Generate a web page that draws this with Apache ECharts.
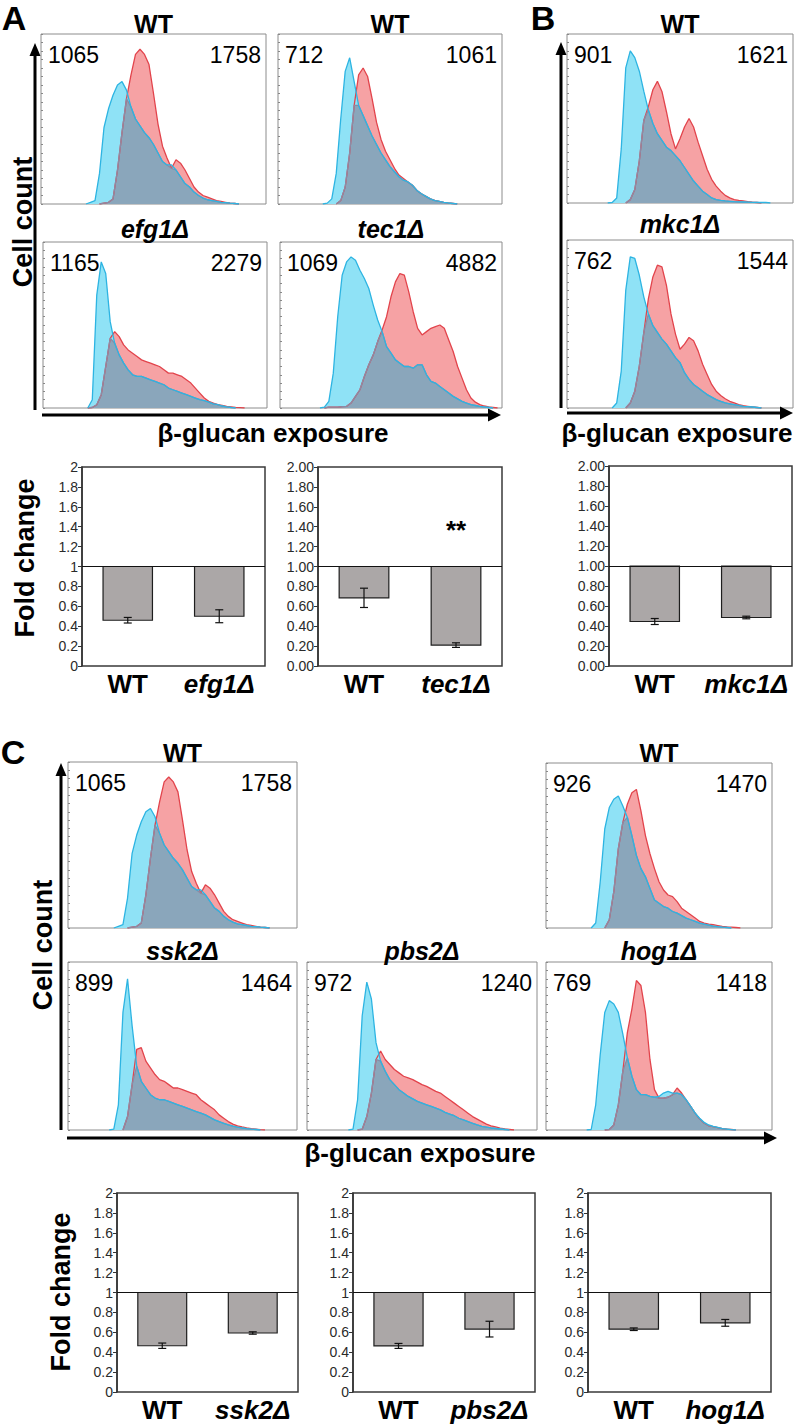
<!DOCTYPE html>
<html><head><meta charset="utf-8">
<script src="https://cdn.jsdelivr.net/npm/echarts@6/dist/echarts.min.js"></script>
<style>html,body{margin:0;padding:0;background:#fff}#c{width:800px;height:1428px}</style>
</head><body><div id="c"></div><script>
// ---------- histogram data (cell count, % of box height; bins every 2% of box width) ----------
const a1Blue=[0,0,0,0,0,0,0,0,0,0,0,1,2,18,45,56,64,70,72,67,57,50,46,42,39,35,30,25,23,23,20,16,12,10,7,5,3.5,2.5,2,1.5,1,0.8,0.5,0.3,0,0,0,0,0,0,0];
const a1Red =[0,0,0,0,0,0,0,0,0,0,0,0,0,0,0.5,1,3,20,42,62,76,88,91,88,82,65,47,34,27,21,26,24,20,15,10,7,5,4,3,2,1.5,1,0.5,0.3,0,0,0,0,0,0,0];
const a2Blue=[0,0,0,0,0,0,0,0,0,0,0,0.5,3,18,50,78,86,72,58,52,46,40,35,30,26,22,19,16,14,13,11,8,6,4.5,3,2,1.5,1,0.6,0.3,0,0,0,0,0,0,0,0,0,0,0];
const a2Red =[0,0,0,0,0,0,0,0,0,0,0,0,0,0,2,10,30,58,76,80,75,62,48,38,31,26,21,17,15,13,11,8,6,4.5,3,2.2,1.5,1,0.6,0.3,0,0,0,0,0,0,0,0,0,0,0];
const a3Blue=[0,0,0,0,0,0,0,0,0,0,0,5,68,88,81,52,39,32,27,23,20,19,19,18,17,16,15,14,12,11,10,9,8,7,6,5,4.5,3.5,2.5,2,1.2,0.7,0.3,0,0,0,0,0,0,0,0];
const a3Red =[0,0,0,0,0,0,0,0,0,0,0,0.3,2,8,25,42,46,43,38,35,33,31,29,28,27,26,25,23,21,21,20,19,17,15,12,9,6,4,3,2,1.5,1,0.7,0.4,0.2,0,0,0,0,0,0];
const a4Blue=[0,0,0,0,0,0,0,0,0,0,0.5,4,21,55,80,88,91,89,83,78,72,62,53,46,37,33,29,27,25,25,24,26,26,20,16,15,13,11,9,7,5.5,4,3,2,1.5,1,0.6,0.3,0,0,0];
const a4Red =[0,0,0,0,0,0,0,0,0,0,0,0.5,0.5,0.5,0.8,1,3,7,11,19,26,32,40,47,55,67,76,81,80,70,58,48,44,46,48,49,50,48,41,34,25,18,11,6,3.5,2,1.2,0.6,0.3,0,0];
const b1Blue=[0,0,0,0,0,0,0,0,0,0,0.3,3,32,80,90,86,78,66,55,47,41,37,33,31,28,25,21,17,13,10,7,5,3,2,1.5,1.2,1,0.8,0.7,0.6,0.5,0.4,0.4,0.3,0.3,0,0,0,0,0,0];
const b1Red =[0,0,0,0,0,0,0,0,0,0,0,0,0,0,2,8,25,49,57,67,72,66,54,41,32,38,45,50,45,36,28,20,14,10,7,4.5,3,2,1.5,1.2,0.8,0.5,0.3,0,0,0,0,0,0,0,0];
const b2Blue=[0,0,0,0,0,0,0,0,0,0,0,3,22,70,90,89,79,66,56,49,45,41,38,34,30,27,21,17,14,12,10,8,6.5,5,4,3,2.5,2,1.5,1,0.8,0.6,0.3,0,0,0,0,0,0,0,0];
const b2Red =[0,0,0,0,0,0,0,0,0,0,0,0,0,0,3,10,25,45,65,78,85,84,73,56,44,35,38,42,40,34,26,20,14,10,7.5,5.5,4,3,2,1.4,1,0.6,0.3,0,0,0,0,0,0,0,0];
const c2Blue=[0,0,0,0,0,0,0,0,0,0,0,3,28,60,73,78,80,74,67,56,44,36,31,24,17,15,13,12,10,9,7.5,6,5,4,3,2.3,1.8,1.2,0.8,0.5,0.3,0,0,0,0,0,0,0,0,0,0];
const c2Red =[0,0,0,0,0,0,0,0,0,0,0,0,0,0,5,22,48,64,75,82,84,71,56,45,36,28,23,20,19,16,12,10,8,6,4,3,2.3,2,1.5,1,0.7,0.5,0.3,0,0,0,0,0,0,0,0];
const c3Blue=[0,0,0,0,0,0,0,0,0,0,0.5,15,70,90,62,38,29,25,21,19,18,18,17,16,15,14,13,12,11,10,9,7.5,6,5,4,3,2.3,1.7,1.2,0.8,0.5,0.3,0,0,0,0,0,0,0,0,0];
const c3Red =[0,0,0,0,0,0,0,0,0,0,0,0,0,8,27,48,49,41,37,33,30,29,27,25,25,24,23,22,21,18,16,14,12,9,7,5,3.5,2.5,1.8,1.2,0.8,0.5,0.2,0,0,0,0,0,0,0,0];
const c4Blue=[0,0,0,0,0,0,0,0,0,0,0.5,18,68,88,78,52,41,35,30,27,24,22,20,18.5,17,16,15,14,13,12,10.5,9.5,8.5,7,6,5,4,3,2.2,1.7,1.2,0.9,0.6,0.3,0,0,0,0,0,0,0];
const c4Red =[0,0,0,0,0,0,0,0,0,0,0,0,0.5,8,22,42,47,42,39,36,34,32,31,30,28.5,27,26,24.5,23,22,20,18,16,14,12,10,8,6.5,5,3.5,2.5,1.8,1.1,0.6,0.3,0,0,0,0,0,0];
const c5Blue=[0,0,0,0,0,0,0,0,0,0,0.3,15,45,70,77,75,70,57,43,32,24,21,21,20,19.5,20,22,23,22,22,21,18,14,10,7,4.5,3,2.2,1.5,0.8,0.5,0.2,0,0,0,0,0,0,0,0,0];
const c5Red =[0,0,0,0,0,0,0,0,0,0,0,0,0,0,0.3,3,15,35,58,72,89,86,70,42,24,19,19,19.5,21,25,22,18,14,10,6.5,4,2.5,2,1.4,0.8,0.5,0.3,0,0,0,0,0,0,0,0,0];

const histTitles=['WT','WT','efg1Δ','tec1Δ','WT','mkc1Δ','WT','WT','ssk2Δ','pbs2Δ','hog1Δ'];
const histLowMfi =['1065','712','1165','1069','901','762','1065','926','899','972','769'];
const histHighMfi=['1758','1061','2279','4882','1621','1544','1758','1470','1464','1240','1418'];
const histBlue=[a1Blue,a2Blue,a3Blue,a4Blue,b1Blue,b2Blue,a1Blue,c2Blue,c3Blue,c4Blue,c5Blue];
const histRed =[a1Red,a2Red,a3Red,a4Red,b1Red,b2Red,a1Red,c2Red,c3Red,c4Red,c5Red];

// ---------- fold-change bar data ----------
const catsA1=['WT','efg1Δ'], fcA1=[0.46,0.50],  errA1=[0.028,0.065];
const catsA2=['WT','tec1Δ'], fcA2=[0.685,0.21], errA2=[0.097,0.023];
const sigA2=['','**'], sigA2Y=[null,1.37];
const catsB =['WT','mkc1Δ'], fcB =[0.445,0.485], errB=[0.03,0.013];
const catsC1=['WT','ssk2Δ'], fcC1=[0.465,0.593], errC1=[0.027,0.012];
const catsC2=['WT','pbs2Δ'], fcC2=[0.463,0.632], errC2=[0.025,0.079];
const catsC3=['WT','hog1Δ'], fcC3=[0.631,0.695], errC3=[0.013,0.034];

// ---------- layout ----------
const F='"Liberation Sans", Arial, Helvetica, sans-serif';
const histBoxes=[[41,34,225,170],[278,34,224,170],[43,242,224,166],[280,242,222,166],
  [567,34,226,169],[567,240,226,168],[68,762,229,166],[546,763,226,165],
  [68,962,229,168],[307,962,230,168],[546,962,226,168]];
const histTitleY=[24,24,229,229,24,224,753,753,951,951,951];
const barDefs=[
  {cats:catsA1,fc:fcA1,err:errA1,dec:1,box:[82,467,183,199]},
  {cats:catsA2,fc:fcA2,err:errA2,dec:2,box:[318,467,184,199],sig:sigA2,sigY:sigA2Y},
  {cats:catsB ,fc:fcB ,err:errB ,dec:2,box:[609,466,183,200]},
  {cats:catsC1,fc:fcC1,err:errC1,dec:1,box:[117,1193,181,199]},
  {cats:catsC2,fc:fcC2,err:errC2,dec:1,box:[353,1193,182,199]},
  {cats:catsC3,fc:fcC3,err:errC3,dec:1,box:[588,1193,183,199]}
];

const COL={blueFill:'#8fe2f6',redFill:'#f6a2a4',both:'#8aa6bb',blueLine:'#2db4e2',redLine:'#e2444c',bothLine:'#8d89a3'};

function trimZeros(arr){
  return arr.map((v,i)=>{
    if(v!==0) return v;
    const p=i>0?arr[i-1]:0, n=i<arr.length-1?arr[i+1]:0;
    return (p===0&&n===0)?null:0;
  });
}

const grid=[],xAxis=[],yAxis=[],series=[],graphic=[];

histBoxes.forEach((b,gi)=>{
  const blue=histBlue[gi], red=histRed[gi];
  const both=blue.map((v,i)=>Math.min(v,red[i]));
  grid.push({left:b[0],top:b[1],width:b[2],height:b[3],show:true,borderColor:'#8c8c8c',borderWidth:1,backgroundColor:'#fff',containLabel:false,outerBoundsMode:'none'});
  xAxis.push({gridIndex:gi,type:'category',boundaryGap:false,data:blue.map((_,i)=>i),show:false});
  yAxis.push({gridIndex:gi,type:'value',min:0,max:100,interval:5,
    axisLine:{show:false},axisTick:{show:true,inside:true,length:2,lineStyle:{color:'#888',width:1}},
    axisLabel:{show:false},splitLine:{show:false}});
  const base={type:'line',xAxisIndex:gi,yAxisIndex:gi,symbol:'none',silent:true,animation:false,connectNulls:false};
  series.push(Object.assign({},base,{data:trimZeros(red),lineStyle:{color:COL.redLine,width:1.3},areaStyle:{color:COL.redFill,opacity:1}}));
  series.push(Object.assign({},base,{data:trimZeros(blue),lineStyle:{width:0,opacity:0},areaStyle:{color:COL.blueFill,opacity:1}}));
  series.push(Object.assign({},base,{data:trimZeros(both),lineStyle:{color:COL.bothLine,width:1.3},areaStyle:{color:COL.both,opacity:1}}));
  series.push(Object.assign({},base,{data:trimZeros(blue),lineStyle:{color:COL.blueLine,width:1.3}}));
  const italic = histTitles[gi]!=='WT';
  graphic.push({type:'text',silent:true,style:{text:histTitles[gi],x:b[0]+b[2]/2,y:histTitleY[gi],
    font:(italic?'italic ':'')+'bold 25px '+F,fill:'#000',textAlign:'center',textVerticalAlign:'middle',align:'center',verticalAlign:'middle'}});
  graphic.push({type:'text',silent:true,z:100,style:{text:histLowMfi[gi],x:b[0]+7,y:b[1]+21,
    font:'23px '+F,fill:'#000',textAlign:'left',textVerticalAlign:'middle',align:'left',verticalAlign:'middle'}});
  graphic.push({type:'text',silent:true,z:100,style:{text:histHighMfi[gi],x:b[0]+b[2]-5,y:b[1]+21,
    font:'23px '+F,fill:'#000',textAlign:'right',textVerticalAlign:'middle',align:'right',verticalAlign:'middle'}});
});

barDefs.forEach((d,k)=>{
  const gi=histBoxes.length+k, b=d.box;
  grid.push({left:b[0],top:b[1],width:b[2],height:b[3],show:true,borderColor:'#3a3a3a',borderWidth:1.5,backgroundColor:'#fff',containLabel:false,outerBoundsMode:'none'});
  xAxis.push({gridIndex:gi,type:'category',data:d.cats,boundaryGap:true,
    axisLine:{show:false},axisTick:{show:false},
    axisLabel:{margin:5,formatter:(v,i)=>i===0?'{n|'+v+'}':'{m|'+v+'}',
      rich:{n:{fontSize:26,fontWeight:'bold',fontFamily:F,color:'#000'},
            m:{fontSize:26,fontWeight:'bold',fontStyle:'italic',fontFamily:F,color:'#000'}}}});
  yAxis.push({gridIndex:gi,type:'value',min:0,max:2,interval:0.2,
    axisLine:{show:true,lineStyle:{color:'#333',width:1.5}},
    axisTick:{show:true,inside:false,length:4,lineStyle:{color:'#333',width:1}},
    axisLabel:{fontSize:14,fontFamily:F,color:'#2a2a2a',margin:4,
      formatter:v=>d.dec===2?v.toFixed(2):String(+v.toFixed(1))},
    splitLine:{show:false}});
  series.push({type:'custom',xAxisIndex:gi,yAxisIndex:gi,silent:true,animation:false,
    data:d.fc.map((v,i)=>[i,v,d.err[i]]),encode:{x:0,y:1},
    renderItem:(params,api)=>{
      const i=api.value(0), v=api.value(1), e=api.value(2);
      const top=api.coord([i,1]), bot=api.coord([i,v]);
      const bw=api.size([1,0])[0]*0.54;
      const hi=api.coord([i,v+e]), lo=api.coord([i,v-e]);
      const cw=4;
      return {type:'group',children:[
        {type:'rect',shape:{x:top[0]-bw/2,y:top[1],width:bw,height:bot[1]-top[1]},
          style:{fill:'#aba7a7',stroke:'#1e1e1e',lineWidth:1.2}},
        {type:'line',shape:{x1:hi[0],y1:hi[1],x2:lo[0],y2:lo[1]},style:{stroke:'#111',lineWidth:1.2}},
        {type:'line',shape:{x1:hi[0]-cw,y1:hi[1],x2:hi[0]+cw,y2:hi[1]},style:{stroke:'#111',lineWidth:1.2}},
        {type:'line',shape:{x1:lo[0]-cw,y1:lo[1],x2:lo[0]+cw,y2:lo[1]},style:{stroke:'#111',lineWidth:1.2}}
      ]};
    },
    markLine:{silent:true,symbol:'none',animation:false,label:{show:false},
      lineStyle:{color:'#111',width:1.2,type:'solid'},data:[{yAxis:1}]}
  });
  if(d.sig){
    series.push({type:'custom',xAxisIndex:gi,yAxisIndex:gi,silent:true,animation:false,
      data:d.sigY.map((y,i)=>[i,y,d.sig[i]]).filter(p=>p[1]!==null),encode:{x:0,y:1},
      renderItem:(params,api)=>{
        const p=api.coord([api.value(0),api.value(1)]);
        return {type:'text',x:p[0],y:p[1],style:{text:d.sig[api.value(0)],font:'bold 26px '+F,fill:'#000',
          textAlign:'center',textVerticalAlign:'middle',align:'center',verticalAlign:'middle'}};
      }});
  }
});

// ---------- axes arrows and labels ----------
function vArrow(x,y0,yTip){
  graphic.push({type:'line',silent:true,shape:{x1:x,y1:y0,x2:x,y2:yTip+12},style:{stroke:'#000',lineWidth:3}});
  graphic.push({type:'polygon',silent:true,shape:{points:[[x,yTip],[x-5.5,yTip+13],[x+5.5,yTip+13]]},style:{fill:'#000'}});
}
function hArrow(y,x0,xTip){
  graphic.push({type:'line',silent:true,shape:{x1:x0,y1:y,x2:xTip-12,y2:y},style:{stroke:'#000',lineWidth:3}});
  graphic.push({type:'polygon',silent:true,shape:{points:[[xTip,y],[xTip-13,y-6.5],[xTip-13,y+6.5]]},style:{fill:'#000'}});
}
vArrow(35,410,43); hArrow(415,42,501);
vArrow(561,408,42); hArrow(413,567,793);
vArrow(61,1130,763); hArrow(1138,67,777);

function txt(t,x,y,font,rot){
  graphic.push({type:'text',silent:true,x:x,y:y,rotation:rot||0,
    style:{text:t,x:0,y:0,font:font,fill:'#000',textAlign:'center',textVerticalAlign:'middle',align:'center',verticalAlign:'middle'}});
}
const panelFont='bold 34px '+F, axFont='bold 26px '+F, fcFont='bold 27px '+F;
txt('A',14,18,panelFont); txt('B',543,18,panelFont); txt('C',13,752,panelFont);
txt('Cell count',23,222,fcFont,Math.PI/2);
txt('Cell count',43,945,fcFont,Math.PI/2);
txt('β-glucan exposure',273,433,axFont);
txt('β-glucan exposure',677,433,axFont);
txt('β-glucan exposure',420,1153,axFont);
txt('Fold change',25,558,fcFont,Math.PI/2);
txt('Fold change',61,1292,fcFont,Math.PI/2);

const chart=echarts.init(document.getElementById('c'),null,{renderer:'svg',width:800,height:1428});
chart.setOption({animation:false,backgroundColor:'#fff',grid,xAxis,yAxis,series,graphic});
</script></body></html>
